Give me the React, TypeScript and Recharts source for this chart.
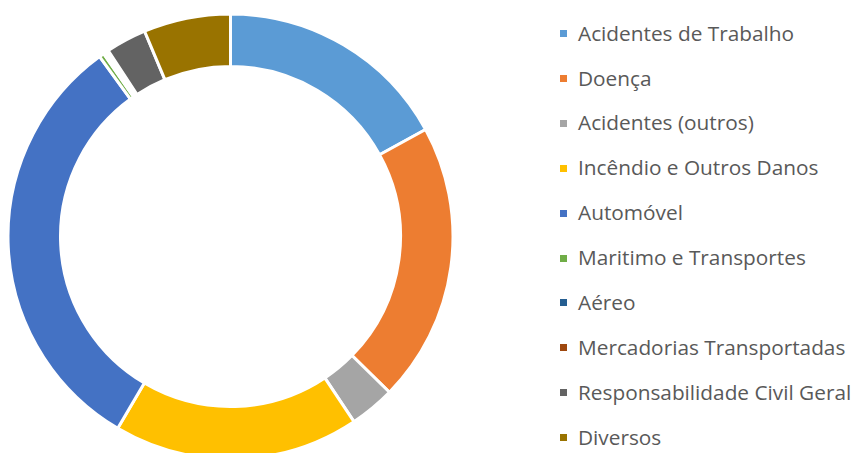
import React from 'react';
import { PieChart, Pie, Cell, Legend } from 'recharts';

const categories = [
  'Acidentes de Trabalho',
  'Doença',
  'Acidentes (outros)',
  'Incêndio e Outros Danos',
  'Automóvel',
  'Maritimo e Transportes',
  'Aéreo',
  'Mercadorias Transportadas',
  'Responsabilidade Civil Geral',
  'Diversos',
];

const shares = [17.0, 20.3, 3.3, 17.8, 31.5, 0.35, 0.2, 0.2, 2.95, 6.3];

const colors = [
  '#5B9BD5',
  '#ED7D31',
  '#A5A5A5',
  '#FFC000',
  '#4472C4',
  '#70AD47',
  '#255E91',
  '#9E480E',
  '#636363',
  '#997300',
];

const data = categories.map((name, i) => ({ name, value: shares[i] }));

const ROW = 44.9;
const FONT = 20.8;

const renderLegend = () => (
  <div style={{ position: 'relative', width: 293, height: 453 }}>
    {categories.map((name, i) => (
      <React.Fragment key={name}>
        <div
          style={{
            position: 'absolute',
            left: 0,
            top: 30 + i * ROW,
            width: 7,
            height: 7,
            background: colors[i],
          }}
        />
        <div
          style={{
            position: 'absolute',
            left: 18,
            top: 22.6 + i * ROW,
            fontFamily: '"Open Sans", sans-serif',
            fontSize: FONT,
            lineHeight: `${FONT}px`,
            color: '#595959',
            whiteSpace: 'nowrap',
          }}
        >
          {name}
        </div>
      </React.Fragment>
    ))}
  </div>
);

export default function App() {
  return (
    <div style={{ position: 'absolute', left: 0, top: 0, width: 853, height: 453, background: '#fff' }}>
      <PieChart width={853} height={453} margin={{ top: 0, right: 0, bottom: 0, left: 0 }}>
        <Pie
          data={data}
          dataKey="value"
          nameKey="name"
          cx={230.5}
          cy={236.5}
          innerRadius={170}
          outerRadius={222.5}
          startAngle={90}
          endAngle={-270}
          stroke="#ffffff"
          strokeWidth={3}
          isAnimationActive={false}
        >
          {data.map((d, i) => (
            <Cell key={d.name} fill={colors[i]} />
          ))}
        </Pie>
        <Legend
          content={renderLegend}
          wrapperStyle={{ position: 'absolute', left: 560, top: 0, width: 293, height: 453 }}
        />
      </PieChart>
    </div>
  );
}
